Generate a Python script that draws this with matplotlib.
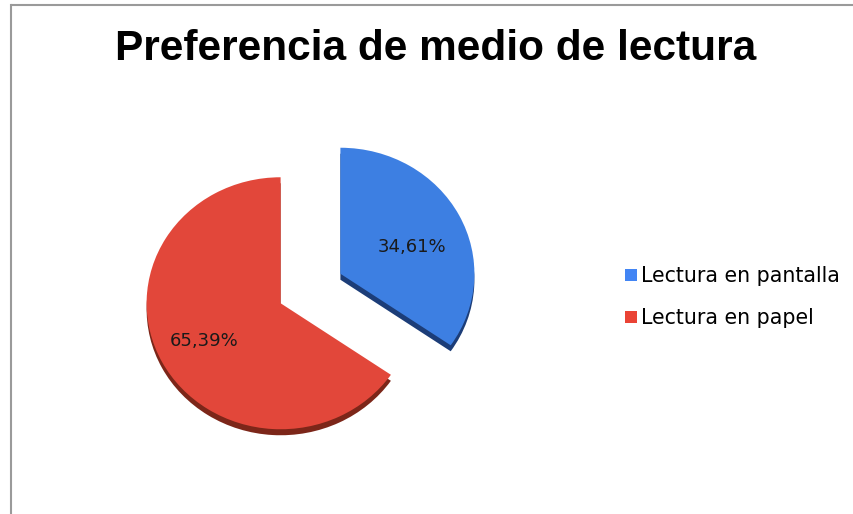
import matplotlib
matplotlib.use("Agg")
import matplotlib.pyplot as plt
from matplotlib.lines import Line2D

categories = ["Lectura en pantalla", "Lectura en papel"]
values = [34.61, 65.39]
colors = ["#3d7fe2", "#e2473a"]
shadow_colors = ["#1c3d78", "#7c2619"]
legend_colors = ["#4285f4", "#ea4335"]
title = "Preferencia de medio de lectura"

plt.rcParams['font.family'] = ['Liberation Sans', 'DejaVu Sans']

W, H = 854, 514
fig = plt.figure(figsize=(W / 100, H / 100), dpi=100)
fig.patch.set_facecolor("white")

ax = fig.add_axes([0, 0, 1, 1])
ux, uy = 134.0, 126.0  # pixels per unit
cx, cy = 310.5 / ux, (H - 288.5) / uy
explode = [0.252, 0.252]
depth = 6.0 / uy

# shadow (3D depth)
ax.pie(values, colors=shadow_colors, startangle=90, counterclock=False,
       explode=explode, center=(cx, cy - depth), radius=1.0, frame=True,
       wedgeprops=dict(linewidth=0))

wedges, texts, autotexts = ax.pie(
    values, colors=colors, startangle=90, counterclock=False,
    explode=explode, center=(cx, cy), radius=1.0, frame=True,
    autopct=lambda p: f"{p:.2f}%".replace('.', ','), pctdistance=0.6,
    textprops=dict(fontsize=13, color="#1a1a1a", family='DejaVu Sans'),
    wedgeprops=dict(linewidth=0))
bx, by = autotexts[0].get_position()
autotexts[0].set_position((bx, by - 8 / uy))
rx, ry = autotexts[1].get_position()
autotexts[1].set_position((rx - 5 / ux, ry - 3 / uy))

ax.set_xlim(0, W / ux)
ax.set_ylim(0, H / uy)
ax.set_aspect('auto')
ax.axis('off')

fig.text(436 / W, 1 - 49 / H, title, ha='center', va='center',
         fontsize=30.5, fontweight='bold', color='black')

handles = [Line2D([], [], marker='s', linestyle='none', markersize=9,
                  markerfacecolor=c, markeredgewidth=0) for c in legend_colors]
fig.legend(handles, categories, loc='center left',
           bbox_to_anchor=(617 / W, 1 - 297 / H), frameon=False,
           prop=dict(size=14.8, family='DejaVu Sans'),
           handlelength=0.55, handletextpad=0.2,
           labelspacing=1.05, borderaxespad=0)

# chart border (top and left)
fig.add_artist(Line2D([12 / W, 1], [1 - 5 / H, 1 - 5 / H], color="#9a9a9a",
                      linewidth=1.5, transform=fig.transFigure))
fig.add_artist(Line2D([11.5 / W, 11.5 / W], [0, 1 - 5 / H], color="#9a9a9a",
                      linewidth=1.5, transform=fig.transFigure))

fig.savefig("out.png", dpi=100, facecolor="white")
